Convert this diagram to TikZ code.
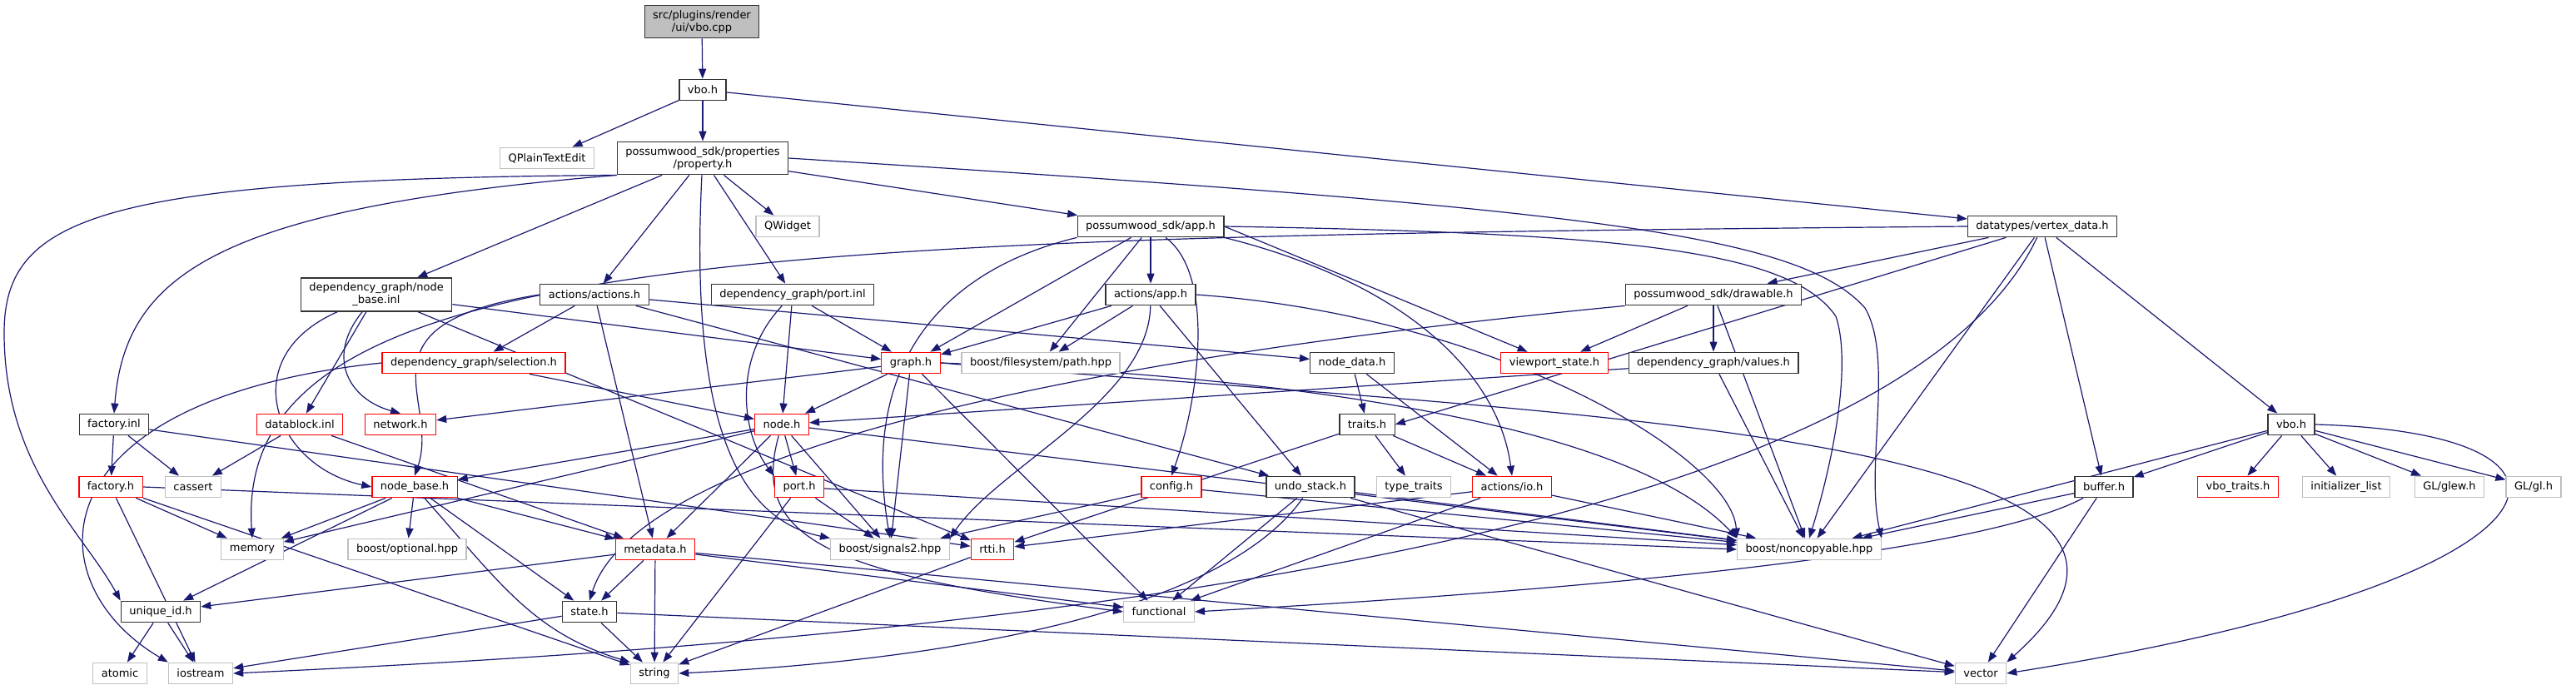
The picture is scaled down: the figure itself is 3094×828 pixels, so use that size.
\documentclass[tikz,border=0pt]{standalone}
\usepackage{fontspec}
\setmainfont{DejaVu Sans}
\usetikzlibrary{arrows.meta,positioning,backgrounds}
\definecolor{EdgeBlue}{HTML}{191970}
\definecolor{ExtGrey}{HTML}{BFBFBF}
\definecolor{TruncRed}{HTML}{FF0000}
\definecolor{RootGrey}{HTML}{BFBFBF}
\definecolor{Frame}{HTML}{333333}
\tikzset{
 file/.style={draw, rectangle, fill=white, line width=1.3pt, minimum height=25.5pt, inner xsep=10pt, inner ysep=6pt, align=center, font=\fontsize{13}{15}\selectfont},
 docfile/.style={file, draw=Frame},
 redfile/.style={file, draw=TruncRed},
 extfile/.style={file, draw=ExtGrey},
 rootfile/.style={file, draw=Frame, fill=RootGrey},
 dep/.style={-{Triangle[length=12pt,width=9pt]}, line width=1.2pt, draw=EdgeBlue}
}
\begin{document}
\begin{tikzpicture}[x=1pt,y=1pt]
\useasboundingbox (0,0) rectangle (3094,-828);
% rows of include files
\node[rootfile] (vbocpp) at (843,-26) {src/plugins/render\\/ui/vbo.cpp};
\node[docfile] (vboh) at (844,-108) {vbo.h};
\node[extfile] (qplain) at (657,-190) {QPlainTextEdit};
\node[docfile] (property) at (844,-190) {possumwood\_sdk/properties\\/property.h};
\node[extfile] (qwidget) at (946,-272) {QWidget};
\node[docfile] (sdkapp) at (1382,-272) {possumwood\_sdk/app.h};
\node[docfile] (vertexdata) at (2453,-272) {datatypes/vertex\_data.h};
\node[docfile] (nodebaseinl) at (452,-354) {dependency\_graph/node\\\_base.inl};
\node[docfile] (actionsh) at (714,-354) {actions/actions.h};
\node[docfile] (portinl) at (952,-354) {dependency\_graph/port.inl};
\node[docfile] (actapp) at (1382,-354) {actions/app.h};
\node[docfile] (drawable) at (2058,-354) {possumwood\_sdk/drawable.h};
\node[redfile] (selection) at (569,-436) {dependency\_graph/selection.h};
\node[redfile] (graph) at (1094,-436) {graph.h};
\node[extfile] (fspath) at (1250,-436) {boost/filesystem/path.hpp};
\node[docfile] (nodedata) at (1624,-436) {node\_data.h};
\node[redfile] (viewport) at (1867,-436) {viewport\_state.h};
\node[docfile] (values) at (2058,-436) {dependency\_graph/values.h};
\node[docfile] (factoryinl) at (137,-510) {factory.inl};
\node[redfile] (datablock) at (360,-510) {datablock.inl};
\node[redfile] (network) at (481,-510) {network.h};
\node[redfile] (nodeh) at (939,-510) {node.h};
\node[docfile] (traits) at (1642,-510) {traits.h};
\node[docfile] (vbotwo) at (2752,-510) {vbo.h};
\node[redfile] (factoryh) at (133,-585) {factory.h};
\node[extfile] (cassert) at (232,-585) {cassert};
\node[redfile] (nodebaseh) at (498,-585) {node\_base.h};
\node[redfile] (porth) at (960,-585) {port.h};
\node[redfile] (config) at (1407,-585) {config.h};
\node[docfile] (undostack) at (1574,-585) {undo\_stack.h};
\node[extfile] (typetraits) at (1698,-585) {type\_traits};
\node[redfile] (actio) at (1816,-585) {actions/io.h};
\node[docfile] (buffer) at (2527,-585) {buffer.h};
\node[redfile] (vbotraits) at (2688,-585) {vbo\_traits.h};
\node[extfile] (initlist) at (2818,-585) {initializer\_list};
\node[extfile] (glew) at (2942,-585) {GL/glew.h};
\node[extfile] (gl) at (3043,-585) {GL/gl.h};
\node[extfile] (memory) at (303,-660) {memory};
\node[extfile] (optional) at (489,-660) {boost/optional.hpp};
\node[redfile] (metadata) at (787,-660) {metadata.h};
\node[extfile] (signals) at (1069,-660) {boost/signals2.hpp};
\node[redfile] (rtti) at (1192,-660) {rtti.h};
\node[extfile] (noncopy) at (2173,-660) {boost/noncopyable.hpp};
\node[docfile] (uniqueid) at (193,-735) {unique\_id.h};
\node[docfile] (state) at (708,-735) {state.h};
\node[extfile] (functional) at (1392,-735) {functional};
\node[extfile] (atomic) at (144,-809) {atomic};
\node[extfile] (iostream) at (241,-809) {iostream};
\node[extfile] (string) at (786,-809) {string};
\node[extfile] (vector) at (2379,-809) {vector};
\begin{scope}[on background layer]
% top of the graph
\draw[dep] (vbocpp)--(vboh);
\draw[dep] (vboh)--(qplain);\draw[dep] (vboh)--(property);\draw[dep] (vboh)--(vertexdata);
\draw[dep] (property)--(qwidget);\draw[dep] (property)--(sdkapp);\draw[dep] (property)--(nodebaseinl);
\draw[dep] (property)--(actionsh);\draw[dep] (property)--(portinl);
\draw[dep] (property.south west) .. controls (120,-215) and (5,-260) .. (5,-400) .. controls (5,-560) and (100,-640) .. (uniqueid.north west);
\draw[dep] (property.south west) .. controls (260,-250) and (150,-330) .. (factoryinl.north);
\draw[dep] (property) .. controls (830,-470) and (870,-620) .. (signals.north west);
\draw[dep] (property.east) .. controls (1900,-250) and (2160,-280) .. (2240,-370) .. controls (2275,-430) and (2240,-560) .. (noncopy.north east);
% possumwood_sdk/app.h and actions/app.h
\draw[dep] (sdkapp)--(graph);\draw[dep] (sdkapp)--(fspath);\draw[dep] (sdkapp)--(actapp);
\draw[dep] (sdkapp.east)--(viewport);
\draw[dep] (sdkapp.east) .. controls (1950,-280) and (2150,-300) .. (2205,-380) .. controls (2225,-440) and (2200,-560) .. (noncopy.north);
\draw[dep] (sdkapp.south west) .. controls (1150,-320) and (1030,-420) .. (signals.north);
\draw[dep] (sdkapp) .. controls (1460,-330) and (1440,-480) .. (config.north);
\draw[dep] (sdkapp.south east) .. controls (1690,-340) and (1800,-450) .. (actio.north);
\draw[dep] (actapp)--(graph);\draw[dep] (actapp)--(fspath);\draw[dep] (actapp)--(undostack);
\draw[dep] (actapp) .. controls (1380,-480) and (1200,-560) .. (signals.north east);
\draw[dep] (actapp.east) .. controls (1800,-380) and (2080,-550) .. (noncopy.north west);
% actions/actions.h and node_base.inl
\draw[dep] (actionsh)--(selection);\draw[dep] (actionsh)--(metadata);\draw[dep] (actionsh)--(nodedata);
\draw[dep] (actionsh)--(undostack);
\draw[dep] (actionsh.west) .. controls (420,-390) and (530,-480) .. (nodebaseh.north);
\draw[dep] (nodebaseinl)--(graph);\draw[dep] (nodebaseinl)--(datablock);\draw[dep] (nodebaseinl)--(rtti);
\draw[dep] (nodebaseinl) .. controls (280,-430) and (330,-560) .. (nodebaseh.west);
\draw[dep] (nodebaseinl) .. controls (390,-430) and (420,-480) .. (network.north);
\draw[dep] (portinl)--(graph);\draw[dep] (portinl)--(nodeh);
\draw[dep] (portinl) .. controls (880,-430) and (890,-520) .. (porth.north west);
% datatypes/vertex_data.h
\draw[dep] (vertexdata)--(drawable);\draw[dep] (vertexdata)--(traits.east);\draw[dep] (vertexdata)--(noncopy);
\draw[dep] (vertexdata)--(buffer);\draw[dep] (vertexdata)--(vbotwo);
\draw[dep] (vertexdata.west) .. controls (900,-285) and (280,-300) .. (memory.north);
\draw[dep] (vertexdata) .. controls (2250,-700) and (900,-780) .. (iostream.east);
\draw[dep] (drawable)--(viewport);\draw[dep] (drawable)--(values);\draw[dep] (drawable)--(noncopy);
\draw[dep] (drawable.south west) .. controls (1200,-440) and (760,-560) .. (state.north);
% middle rows
\draw[dep] (selection)--(nodeh);
\draw[dep] (selection.west) .. controls (40,-480) and (40,-700) .. (iostream.north west);
\draw[dep] (graph)--(network);\draw[dep] (graph)--(nodeh);\draw[dep] (graph)--(signals);
\draw[dep] (graph)--(functional);
\draw[dep] (graph.east) .. controls (1500,-450) and (1950,-500) .. (noncopy.north west);
\draw[dep] (graph.east) .. controls (1900,-500) and (2720,-520) .. (vector.north east);
\draw[dep] (values)--(nodeh);\draw[dep] (values)--(noncopy);
\draw[dep] (nodedata)--(traits);\draw[dep] (nodedata)--(actio);
\draw[dep] (traits)--(typetraits);\draw[dep] (traits)--(actio);\draw[dep] (traits)--(rtti);
\draw[dep] (factoryinl)--(factoryh);\draw[dep] (factoryinl)--(cassert);\draw[dep] (factoryinl)--(rtti);
\draw[dep] (datablock)--(cassert);\draw[dep] (datablock)--(metadata);
\draw[dep] (nodeh)--(nodebaseh);\draw[dep] (nodeh)--(memory);\draw[dep] (nodeh)--(metadata);
\draw[dep] (nodeh)--(porth);\draw[dep] (nodeh)--(signals);\draw[dep] (nodeh)--(noncopy);
\draw[dep] (nodeh) .. controls (900,-650) and (1000,-690) .. (functional.west);
\draw[dep] (vbotwo)--(noncopy);\draw[dep] (vbotwo)--(buffer);\draw[dep] (vbotwo)--(vbotraits);
\draw[dep] (vbotwo)--(initlist);\draw[dep] (vbotwo)--(glew);\draw[dep] (vbotwo)--(gl);
\draw[dep] (vbotwo.east) .. controls (3160,-520) and (3100,-700) .. (vector.east);
% lower rows
\draw[dep] (nodebaseh)--(memory);\draw[dep] (nodebaseh)--(optional);\draw[dep] (nodebaseh)--(uniqueid);
\draw[dep] (nodebaseh)--(metadata);\draw[dep] (nodebaseh)--(state);
\draw[dep] (nodebaseh) .. controls (600,-700) and (640,-760) .. (string.north west);
\draw[dep] (factoryh)--(memory);\draw[dep] (factoryh)--(iostream);\draw[dep] (factoryh)--(string);
\draw[dep] (factoryh.east)--(noncopy.west);
\draw[dep] (porth)--(signals);\draw[dep] (porth)--(string);\draw[dep] (porth)--(noncopy);
\draw[dep] (config)--(signals);\draw[dep] (config)--(noncopy);
\draw[dep] (undostack)--(functional);\draw[dep] (undostack)--(vector);\draw[dep] (undostack)--(noncopy);
\draw[dep] (undostack) .. controls (1480,-720) and (1200,-790) .. (string.east);
\draw[dep] (actio)--(rtti);\draw[dep] (actio)--(functional);\draw[dep] (actio)--(noncopy);
\draw[dep] (buffer)--(noncopy);\draw[dep] (buffer)--(vector);
\draw[dep] (buffer) .. controls (2350,-680) and (1700,-720) .. (functional.east);
\draw[dep] (metadata)--(uniqueid);\draw[dep] (metadata)--(state);\draw[dep] (metadata)--(string);
\draw[dep] (metadata)--(functional);\draw[dep] (metadata)--(vector);
\draw[dep] (rtti)--(string);
\draw[dep] (state)--(iostream);\draw[dep] (state)--(string);\draw[dep] (state)--(vector);
\draw[dep] (uniqueid)--(atomic);\draw[dep] (uniqueid)--(iostream);
\end{scope}
\end{tikzpicture}
\end{document}
